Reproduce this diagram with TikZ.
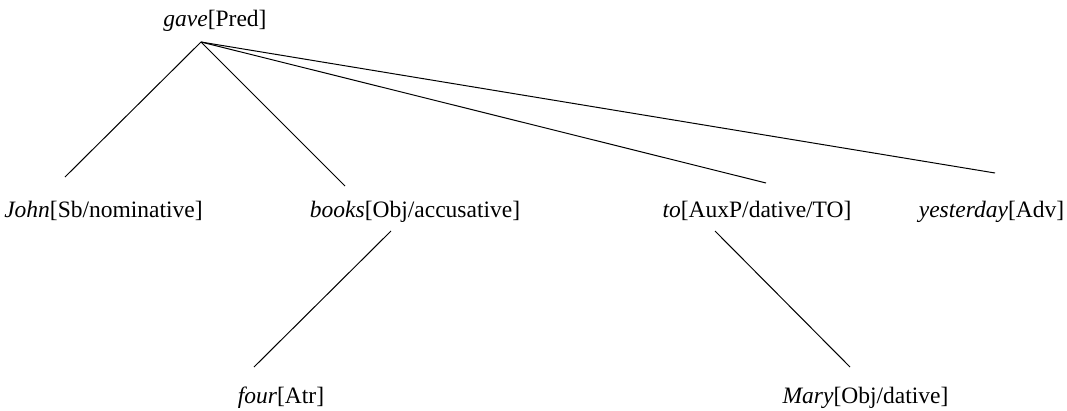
\documentclass[tikz,border=0pt]{standalone}
\usepackage{fontspec}
\setmainfont{Liberation Serif}

\tikzset{every picture/.style={line width=0.75pt}}
\tikzset{word/.style={anchor=base,inner sep=0pt,font=\fontsize{23.5}{28}\selectfont}}
\tikzset{edge/.style={line width=1pt}}

\begin{document}
\begin{tikzpicture}[x=1pt,y=1pt,yscale=-1]
    \useasboundingbox (0,0) rectangle (1067,410);

    % Text Node
    \node (gave) [word] at (215,26) {\textit{gave}[Pred]};
    % Text Node
    \node (john) [word] at (103.5,217) {\textit{John}[Sb/nominative]};
    % Text Node
    \node (books) [word] at (415,217) {\textit{books}[Obj/accusative]};
    % Text Node
    \node (to) [word] at (757,217) {\textit{to}[AuxP/dative/TO]};
    % Text Node
    \node (yesterday) [word] at (991.5,217) {\textit{yesterday}[Adv]};
    % Text Node
    \node (four) [word] at (281,403) {\textit{four}[Atr]};
    % Text Node
    \node (mary) [word] at (865.5,403) {\textit{Mary}[Obj/dative]};

    % attach points
    \coordinate (gave-down) at (201,42);
    \coordinate (john-up) at (65,177);
    \coordinate (books-up) at (345,186);
    \coordinate (books-down) at (391,231);
    \coordinate (to-up) at (766,183);
    \coordinate (to-down) at (715,231);
    \coordinate (yesterday-up) at (995,173);
    \coordinate (four-up) at (254,367);
    \coordinate (mary-up) at (850,367);

    %Straight Lines
    \draw [edge] (gave-down) -- (john-up);
    \draw [edge] (gave-down) -- (books-up);
    \draw [edge] (gave-down) -- (to-up);
    \draw [edge] (gave-down) -- (yesterday-up);
    \draw [edge] (books-down) -- (four-up);
    \draw [edge] (to-down) -- (mary-up);

\end{tikzpicture}
\end{document}
